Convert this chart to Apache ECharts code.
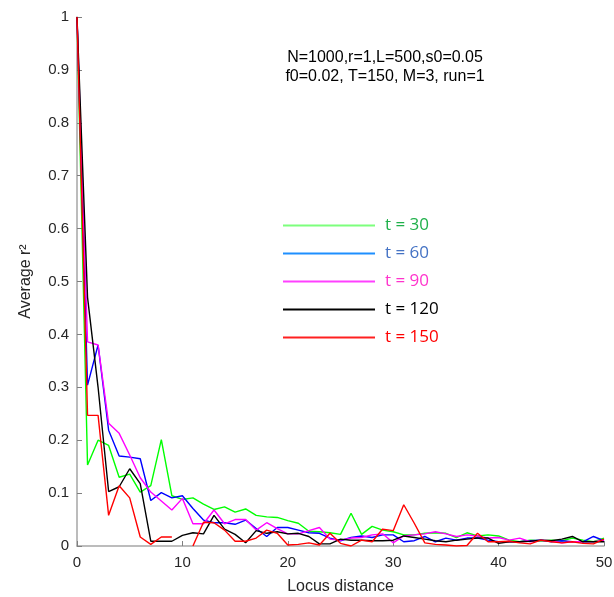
<!DOCTYPE html>
<html>
<head>
<meta charset="utf-8">
<script src="https://cdn.jsdelivr.net/npm/echarts@6/dist/echarts.min.js"></script>
<style>html,body{margin:0;padding:0;background:#fff;}#c{width:614px;height:597px;}</style>
</head>
<body>
<div id="c"></div>
<script>
const distances = Array.from({length: 51}, (_, i) => i);
const t30 = [1.0,0.153,0.2,0.19,0.13,0.136,0.102,0.114,0.201,0.095,0.088,0.091,0.079,0.069,0.074,0.064,0.07,0.058,0.055,0.054,0.048,0.043,0.028,0.027,0.025,0.022,0.062,0.022,0.037,0.03,0.027,0.021,0.021,0.024,0.025,0.024,0.016,0.025,0.019,0.021,0.019,0.011,0.008,0.011,0.01,0.011,0.01,0.015,0.011,0.008,0.015];
const t60 = [1.0,0.304,0.38,0.219,0.17,0.168,0.165,0.086,0.101,0.091,0.095,0.071,0.049,0.044,0.044,0.041,0.049,0.033,0.018,0.035,0.035,0.03,0.025,0.024,0.015,0.01,0.016,0.019,0.016,0.021,0.021,0.008,0.01,0.018,0.008,0.015,0.011,0.015,0.015,0.011,0.008,0.008,0.008,0.01,0.011,0.008,0.01,0.008,0.008,0.018,0.01];
const t90 = [1.0,0.386,0.38,0.232,0.213,0.172,0.129,0.102,0.085,0.068,0.09,0.042,0.042,0.068,0.042,0.05,0.05,0.03,0.044,0.033,0.023,0.023,0.029,0.035,0.013,0.011,0.015,0.016,0.021,0.023,0.006,0.019,0.021,0.023,0.027,0.023,0.018,0.021,0.019,0.015,0.016,0.011,0.015,0.008,0.011,0.01,0.006,0.008,0.008,0.008,0.011];
const t120 = [1.0,0.47,0.30,0.103,0.112,0.146,0.118,0.009,0.009,0.009,0.02,0.025,0.023,0.058,0.032,0.022,0.006,0.029,0.024,0.027,0.023,0.024,0.018,0.004,0.004,0.013,0.011,0.011,0.01,0.01,0.011,0.019,0.016,0.013,0.01,0.008,0.011,0.013,0.015,0.015,0.005,0.008,0.008,0.009,0.011,0.01,0.013,0.018,0.008,0.008,0.008];
const t150 = [1.0,0.247,0.247,0.058,0.114,0.091,0.017,0.003,0.017,0.017,null,0,0.045,0.044,0.03,0.009,0.009,0.015,0.03,0.024,0.002,0.003,0.006,0.002,0.024,0.005,0,0.011,0.008,0.032,0.029,0.078,0.043,0.006,0.003,0.002,0,0.001,0.024,0.008,0.008,0.009,0.006,0.004,0.011,0.008,0.006,0.008,0.005,0.004,0.013];
const seriesNames = ['t = 30','t = 60','t = 90','t = 120','t = 150'];
const seriesValues = [t30, t60, t90, t120, t150];
const lineColors = ['#00ff00','#0000ff','#ff00ff','#000000','#ff0000'];
const legendLineColors = ['#7dff7d','#1e8fff','#ff40ff','#000000','#ff2020'];
const legendTextColors = ['#1fb04a','#4472c4','#ff33cc','#000000','#ff0000'];
const xTicks = [0,10,20,30,40,50];
const annotation = ['N=1000,r=1,L=500,s0=0.05','f0=0.02, T=150, M=3, run=1'];

const chart = echarts.init(document.getElementById('c'));
const axisCommon = {
  axisLine: {show: true, lineStyle: {color: '#a6a6a6', width: 1.5}},
  axisTick: {show: true, inside: true, length: 5, lineStyle: {color: '#7f7f7f'}},
  splitLine: {show: false},
  axisLabel: {color: '#262626', fontSize: 15, fontFamily: 'Liberation Sans'},
  nameTextStyle: {color: '#262626', fontSize: 16, fontFamily: 'Liberation Sans'}
};
chart.setOption({
  animation: false,
  backgroundColor: '#fff',
  grid: {left: 77, right: 10, top: 17, bottom: 51, containLabel: false, outerBoundsMode: 'none'},
  xAxis: Object.assign({}, axisCommon, {
    type: 'value', min: xTicks[0], max: xTicks[xTicks.length-1], interval: 10,
    name: 'Locus distance', nameLocation: 'middle', nameGap: 33,
    axisLabel: Object.assign({}, axisCommon.axisLabel, {margin: 9})
  }),
  yAxis: Object.assign({}, axisCommon, {
    type: 'value', min: 0, max: 1, interval: 0.1,
    name: 'Average r²', nameLocation: 'middle', nameGap: 43, nameRotate: 90,
    axisLabel: Object.assign({}, axisCommon.axisLabel, {margin: 8})
  }),
  legend: {
    orient: 'vertical', left: 283, top: 217, padding: 0,
    itemWidth: 92, itemHeight: 2, itemGap: 11,
    icon: 'rect',
    data: seriesNames.map((n, i) => ({
      name: n,
      itemStyle: {color: legendLineColors[i]},
      textStyle: {color: legendTextColors[i]}
    })),
    textStyle: {fontSize: 17, lineHeight: 17, fontFamily: 'Open Sans', padding: [0,0,0,5]}
  },
  graphic: annotation.map((t, i) => ({
    type: 'text', x: 385, y: 50 + i * 19,
    style: {text: t, fontSize: 16, fontFamily: 'Liberation Sans', fill: '#000', align: 'center', verticalAlign: 'top'},
    z: 10
  })),
  series: seriesNames.map((n, i) => ({
    name: n, type: 'line', symbol: 'none', connectNulls: false,
    lineStyle: {color: lineColors[i], width: 1.4},
    itemStyle: {color: lineColors[i]},
    data: distances.map((d, j) => [d, seriesValues[i][j]]),
    z: 2 + i
  }))
});
</script>
</body>
</html>
